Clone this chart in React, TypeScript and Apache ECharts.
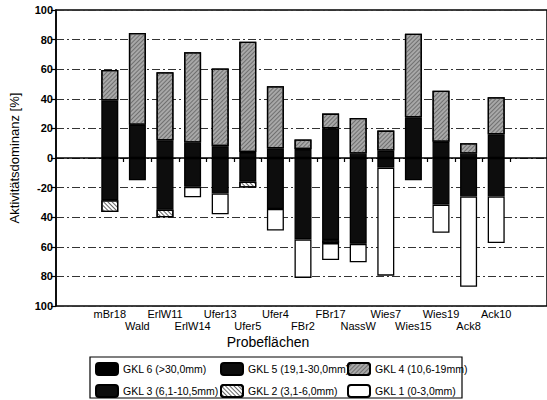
import React, { useEffect, useRef } from "react";
import * as echarts from "echarts";

const categories = ["mBr18", "Wald", "ErlW11", "ErlW14", "Ufer13", "Ufer5", "Ufer4", "FBr2", "FBr17", "NassW", "Wies7", "Wies15", "Wies19", "Ack8", "Ack10"];
const gkl6 = [0, 0, 0, 0, 0, 0, 0, 0, 0, 0, 0, 0, 0, 0, 0];
const gkl5 = [39, 22.5, 12, 10.5, 8, 4, 6.5, 6, 20, 3, 5, 27.5, 11, 3, 16];
const gkl4 = [20.5, 62, 46, 61, 52.5, 74.5, 42, 6.5, 10, 24, 13.5, 56.5, 34.5, 7, 25];
const gkl3 = [-28.5, -15, -35, -19.5, -24, -16, -34.5, -55, -55.5, -58, -6.5, -15, -31.5, -26, -26];
const gkl2 = [-8, 0, -5, 0, 0, -4, 0, 0, -2, 0, 0, 0, 0, 0, 0];
const gkl1 = [0, 0, 0, -7, -14, 0, -14.5, -26, -11.5, -12.5, -73, 0, -19, -61, -31.5];
const yTicks = [-100, -80, -60, -40, -20, 0, 20, 40, 60, 80, 100];

const names = ["GKL 6 (>30,0mm)", "GKL 5 (19,1-30,0mm)", "GKL 4 (10,6-19mm)", "GKL 3 (6,1-10,5mm)", "GKL 2 (3,1-6,0mm)", "GKL 1 (0-3,0mm)"];

const FONT = "Liberation Sans";

export default function App() {
  const ref = useRef<HTMLDivElement>(null);
  useEffect(() => {
    if (!ref.current) return;
    const chart = echarts.init(ref.current, null, { renderer: "svg" });
    const nz = (a: number[]) => a.map((v) => (v === 0 ? null : v));
    const border = { borderColor: "#000", borderWidth: 1.3 };
    const styles: any[] = [
      { color: "#000", ...border },
      { color: "#0d0d0d", ...border },
      {
        color: "#a8a8a8", ...border,
        decal: { symbol: "rect", symbolSize: 1, dashArrayX: [1, 0], dashArrayY: [1, 1.5], rotation: -Math.PI / 4, color: "#707070", backgroundColor: "#d4d4d4" },
      },
      { color: "#0d0d0d", ...border },
      {
        color: "#fff", ...border,
        decal: { symbol: "rect", symbolSize: 1, dashArrayX: [1, 0], dashArrayY: [1, 2], rotation: Math.PI / 4, color: "#666", backgroundColor: "#fff" },
      },
      { color: "#fff", ...border },
    ];
    const datas = [gkl6, gkl5, gkl4, gkl3, gkl2, gkl1];
    const gridLine = { show: true, lineStyle: { color: "#333", width: 1, type: [8, 3, 2, 3] as any } };
    const legendBase = {
      orient: "vertical" as const,
      top: 362,
      padding: 0,
      itemWidth: 22,
      itemHeight: 12,
      itemGap: 8,
      selectedMode: false,
      textStyle: { fontFamily: FONT, fontSize: 10.5, color: "#000" },
    };
    chart.setOption({
      animation: false,
      textStyle: { fontFamily: FONT },
      grid: [
        { left: 54, right: -2, top: 10, bottom: 94, show: true, borderColor: "#000", borderWidth: 1.5, containLabel: false },
        { left: 96, width: 414, top: 10, bottom: 94, containLabel: false },
      ],
      xAxis: [
        { gridIndex: 0, type: "value", min: 0, max: 1, show: false },
        {
          gridIndex: 1,
          type: "category",
          data: categories,
          axisLine: { show: false },
          axisTick: {
            show: true,
            length: 4,
            lineStyle: { color: "#000", width: 1.2 },
            interval: (i: number) => i > 0,
          },
          axisLabel: {
            interval: 0,
            margin: 2,
            color: "#000",
            fontSize: 11,
            fontFamily: FONT,
            lineHeight: 12,
            formatter: (v: string) => {
              const i = categories.indexOf(v);
              return i % 2 ? "\n" + v : v;
            },
          },
        },
      ],
      yAxis: [
        {
          gridIndex: 0,
          type: "value",
          min: yTicks[0],
          max: yTicks[yTicks.length - 1],
          interval: 20,
          name: "Aktivitätsdominanz [%]",
          nameLocation: "middle",
          nameGap: 35,
          nameTextStyle: { fontFamily: FONT, fontSize: 13, color: "#000" },
          axisLine: { show: true, lineStyle: { color: "#000", width: 1.5 } },
          axisTick: { show: true, length: 5, lineStyle: { color: "#000", width: 1.2 } },
          axisLabel: {
            color: "#000",
            fontSize: 11,
            fontWeight: "bold",
            fontFamily: FONT,
            margin: 3,
            formatter: (v: number) => (v === -20 ? "-20" : String(Math.abs(v))),
          },
          splitLine: gridLine,
        },
        { gridIndex: 1, type: "value", min: -100, max: 100, interval: 20, show: false, splitLine: { show: false } },
      ],
      legend: [
        { ...legendBase, left: 95, data: [names[0], names[3]] },
        { ...legendBase, left: 220, data: [names[1], names[4]] },
        { ...legendBase, left: 347, data: [names[2], names[5]] },
      ],
      graphic: [
        { type: "rect", shape: { x: 90, y: 357, width: 372, height: 41 }, style: { fill: "none", stroke: "#000", lineWidth: 1.2 } },
        { type: "text", x: 268, y: 335, style: { text: "Probeflächen", fontFamily: FONT, fontSize: 14, fill: "#000", textAlign: "center" } },
      ],
      series: [
        {
          type: "line",
          xAxisIndex: 0,
          yAxisIndex: 0,
          data: [[0, 0], [1, 0]],
          symbol: "none",
          lineStyle: { color: "#000", width: 1.3 },
          silent: true,
        },
        ...datas.map((d, k) => ({
          name: names[k],
          type: "bar",
          xAxisIndex: 1,
          yAxisIndex: 1,
          stack: "all",
          barWidth: 17,
          data: nz(d),
          itemStyle: styles[k],
        })),
      ],
    });
    return () => chart.dispose();
  }, []);
  return <div ref={ref} style={{ width: 547, height: 400, position: "absolute", left: 0, top: 0 }} />;
}
